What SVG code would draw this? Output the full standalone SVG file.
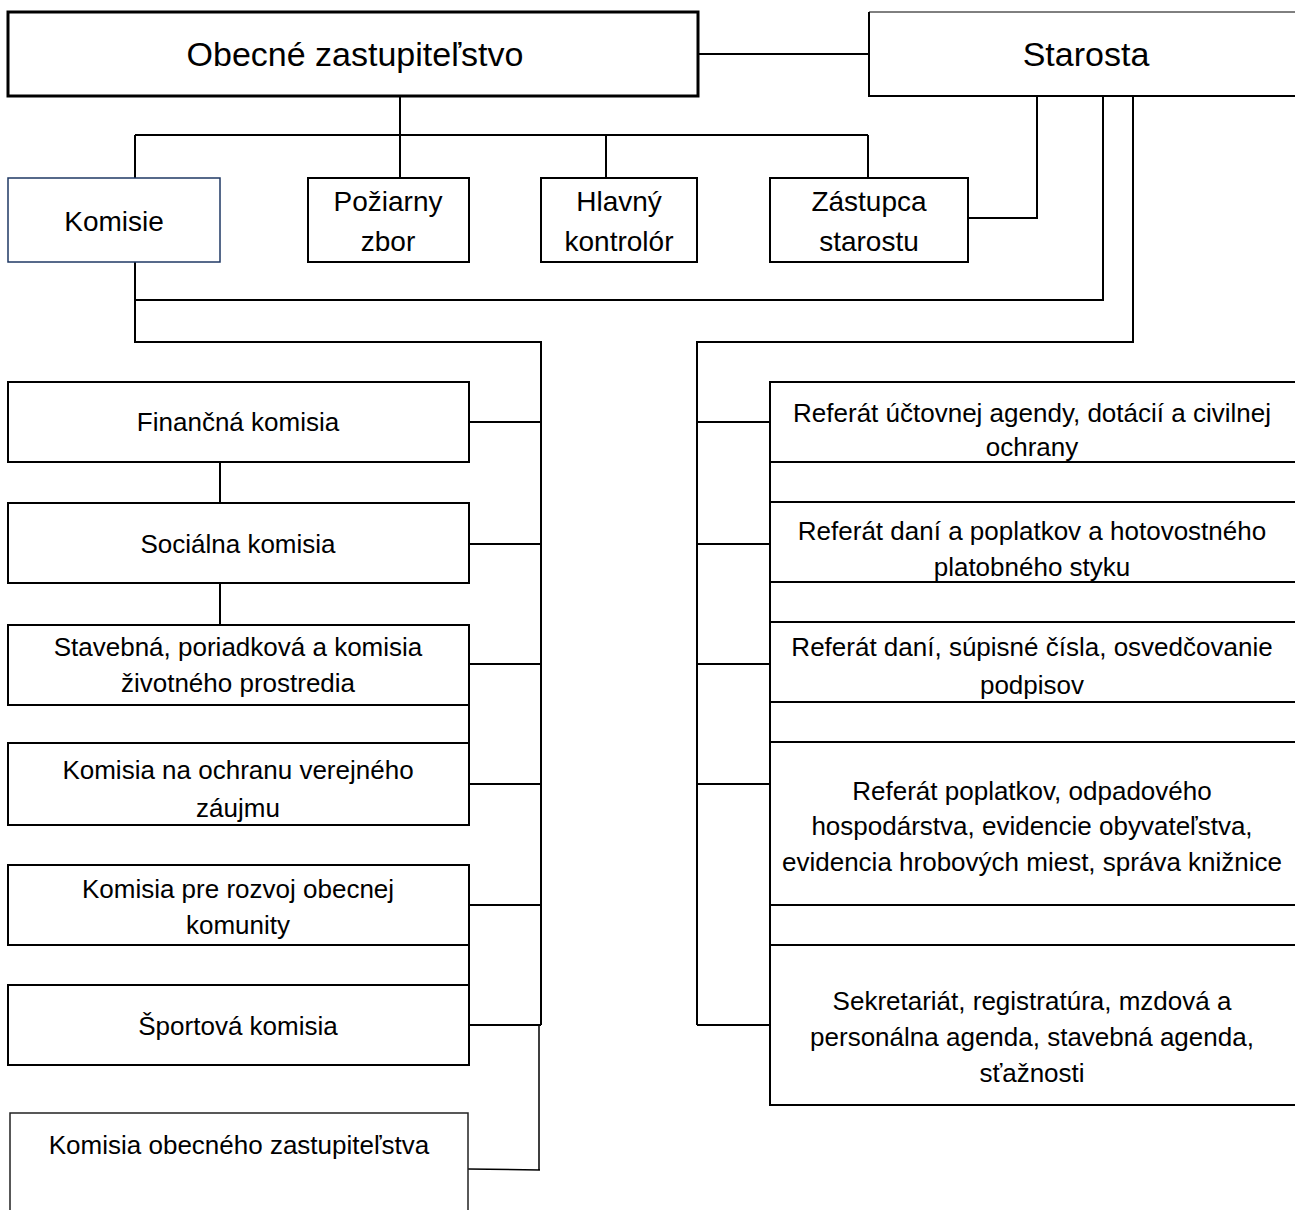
<svg xmlns="http://www.w3.org/2000/svg" width="1295" height="1210" viewBox="0 0 1295 1210">
<style>
.box{fill:#fff;stroke:#000;stroke-width:2}
.thick{fill:#fff;stroke:#000;stroke-width:3}
.navy{fill:#fff;stroke:#1f3864;stroke-width:1.5}
.ln{fill:none;stroke:#000;stroke-width:2}
.thin{fill:none;stroke:#000;stroke-width:1.5}
text{font-family:"Liberation Sans",Arial,sans-serif;fill:#000;text-anchor:middle}
.t1{font-size:34px}
.t2{font-size:28px}
.t3{font-size:26px}
</style>
<rect width="1295" height="1210" fill="#fff"/>
<g id="connectors">
<path class="ln" d="M698 54H869"/>
<path class="ln" d="M400 96V135M135 135H868M135 135V178M400 135V178M606 135V178M868 135V178"/>
<path class="ln" d="M1037 96V218H968"/>
<path class="ln" d="M1103 96V300H135M135 262V342H541V1025"/>
<path class="ln" d="M1133 96V342H697V1025"/>
<path class="ln" d="M469 422H541M469 544H541M469 664H541M469 784H541M469 905H541M469 1025H541"/>
<path class="ln" d="M220 462V503M220 583V625"/>
<path class="ln" d="M469 705V743M469 945V985"/>
<path class="thin" d="M539 1025V1170M468 1169L540 1170"/>
<path class="ln" d="M697 422H770M697 544H770M697 664H770M697 784H770M697 1025H770"/>
<path class="ln" d="M770 462V502M770 582V622M770 702V742M770 905V945"/>
</g>
<g id="n-obecne">
<rect class="thick" x="8" y="12" width="690" height="84"/>
<text class="t1" x="355" y="66">Obecné zastupiteľstvo</text>
</g>
<g id="n-starosta">
<path fill="#fff" stroke="#000" stroke-width="1" d="M869 12H1300"/>
<path fill="none" stroke="#000" stroke-width="2" d="M869 12V96H1300"/>
<text class="t1" x="1086" y="66">Starosta</text>
</g>
<g id="n-komisie">
<rect class="navy" x="8" y="178" width="212" height="84"/>
<text class="t2" x="114" y="231">Komisie</text>
</g>
<g id="n-poziarny">
<rect class="box" x="308" y="178" width="161" height="84"/>
<text class="t2" x="388" y="211">Požiarny</text>
<text class="t2" x="388" y="251">zbor</text>
</g>
<g id="n-hlavny">
<rect class="box" x="541" y="178" width="156" height="84"/>
<text class="t2" x="619" y="211">Hlavný</text>
<text class="t2" x="619" y="251">kontrolór</text>
</g>
<g id="n-zastupca">
<rect class="box" x="770" y="178" width="198" height="84"/>
<text class="t2" x="869" y="211">Zástupca</text>
<text class="t2" x="869" y="251">starostu</text>
</g>
<g id="n-financna">
<rect class="box" x="8" y="382" width="461" height="80"/>
<text class="t3" x="238" y="431">Finančná komisia</text>
</g>
<g id="n-socialna">
<rect class="box" x="8" y="503" width="461" height="80"/>
<text class="t3" x="238" y="553">Sociálna komisia</text>
</g>
<g id="n-stavebna">
<rect class="box" x="8" y="625" width="461" height="80"/>
<text class="t3" x="238" y="656">Stavebná, poriadková a komisia</text>
<text class="t3" x="238" y="692">životného prostredia</text>
</g>
<g id="n-ochrana">
<rect class="box" x="8" y="743" width="461" height="82"/>
<text class="t3" x="238" y="779">Komisia na ochranu verejného</text>
<text class="t3" x="238" y="817">záujmu</text>
</g>
<g id="n-rozvoj">
<rect class="box" x="8" y="865" width="461" height="80"/>
<text class="t3" x="238" y="898">Komisia pre rozvoj obecnej</text>
<text class="t3" x="238" y="934">komunity</text>
</g>
<g id="n-sportova">
<rect class="box" x="8" y="985" width="461" height="80"/>
<text class="t3" x="238" y="1035">Športová komisia</text>
</g>
<g id="n-oz">
<rect fill="#fff" stroke="#222" stroke-width="1.5" x="10" y="1113" width="458" height="120"/>
<text class="t3" x="239" y="1154">Komisia obecného zastupiteľstva</text>
</g>
<g id="n-ref1">
<rect class="box" x="770" y="382" width="560" height="80"/>
<text class="t3" x="1032" y="422">Referát účtovnej agendy, dotácií a civilnej</text>
<text class="t3" x="1032" y="456">ochrany</text>
</g>
<g id="n-ref2">
<rect class="box" x="770" y="502" width="560" height="80"/>
<text class="t3" x="1032" y="540">Referát daní a poplatkov a hotovostného</text>
<text class="t3" x="1032" y="576">platobného styku</text>
</g>
<g id="n-ref3">
<rect class="box" x="770" y="622" width="560" height="80"/>
<text class="t3" x="1032" y="656">Referát daní, súpisné čísla, osvedčovanie</text>
<text class="t3" x="1032" y="694">podpisov</text>
</g>
<g id="n-ref4">
<rect class="box" x="770" y="742" width="560" height="163"/>
<text class="t3" x="1032" y="800">Referát poplatkov, odpadového</text>
<text class="t3" x="1032" y="835">hospodárstva, evidencie obyvateľstva,</text>
<text class="t3" x="1032" y="871">evidencia hrobových miest, správa knižnice</text>
</g>
<g id="n-sekretariat">
<rect class="box" x="770" y="945" width="560" height="160"/>
<text class="t3" x="1032" y="1010">Sekretariát, registratúra, mzdová a</text>
<text class="t3" x="1032" y="1046">personálna agenda, stavebná agenda,</text>
<text class="t3" x="1032" y="1082">sťažnosti</text>
</g>
</svg>
